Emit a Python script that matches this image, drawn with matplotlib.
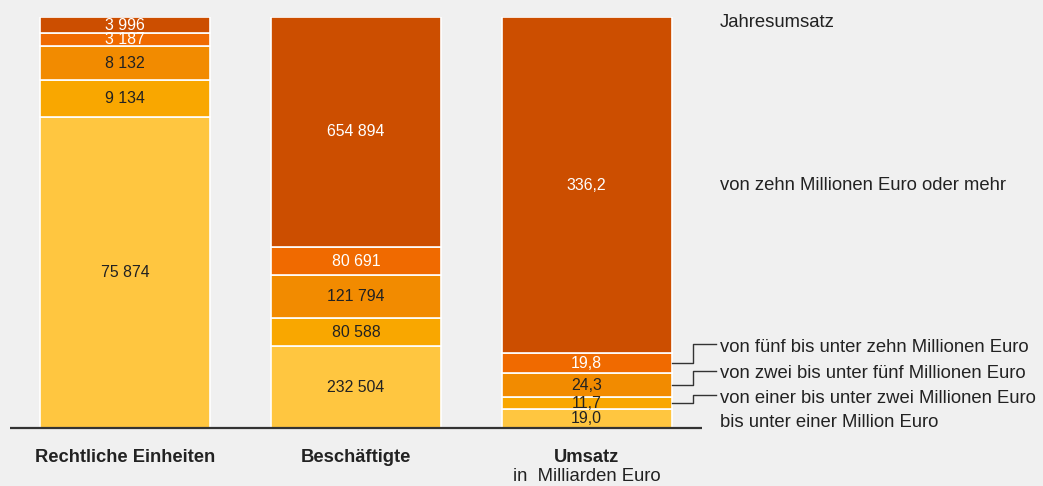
import matplotlib
matplotlib.use("Agg")
import matplotlib.pyplot as plt

plt.rcParams['font.family'] = ['Liberation Sans', 'DejaVu Sans']

# Data
columns = ["Rechtliche Einheiten", "Beschäftigte", "Umsatz"]
column_sub = ["", "", "in  Milliarden Euro"]
classes = ["bis unter einer Million Euro",
           "von einer bis unter zwei Millionen Euro",
           "von zwei bis unter fünf Millionen Euro",
           "von fünf bis unter zehn Millionen Euro",
           "von zehn Millionen Euro oder mehr"]
einheiten = [75874, 9134, 8132, 3187, 3996]
beschaeftigte = [232504, 80588, 121794, 80691, 654894]
umsatz = [19.0, 11.7, 24.3, 19.8, 336.2]
labels_einheiten = ["75 874", "9 134", "8 132", "3 187", "3 996"]
labels_besch = ["232 504", "80 588", "121 794", "80 691", "654 894"]
labels_umsatz = ["19,0", "11,7", "24,3", "19,8", "336,2"]

colors = ["#ffc640", "#f9a700", "#f28b00", "#f06a00", "#cc4e00"]
text_colors = ["#222222", "#222222", "#222222", "#ffffff", "#ffffff"]

W, H = 1043, 486
fig = plt.figure(figsize=(W/100, H/100), dpi=100)
fig.patch.set_facecolor("#f0f0f0")

# axes in px: x 10..702, y 17..428
x0, x1, ytop, ybot = 10, 702, 17, 428
ax = fig.add_axes([x0/W, (H-ybot)/H, (x1-x0)/W, (ybot-ytop)/H])
ax.set_facecolor("none")
ax.set_xlim(-0.5, 2.5)
ax.set_ylim(0, 100)
for s in ax.spines.values():
    s.set_visible(False)
ax.set_xticks([])
ax.set_yticks([])

px_per_x = (x1 - x0) / 3.0
def px2x(px):
    return (px - x0) / px_per_x - 0.5
def py2y(py):
    return (ybot - py) / (ybot - ytop) * 100

FS_VAL = 11.4
FS_LAB = 13.3
width = 170 / px_per_x
series = [einheiten, beschaeftigte, umsatz]
lbls = [labels_einheiten, labels_besch, labels_umsatz]
mids_umsatz = []
for i, (vals, lb) in enumerate(zip(series, lbls)):
    tot = sum(vals)
    bottom = 0
    for k, v in enumerate(vals):
        h = v / tot * 100
        ax.bar(i, h, bottom=bottom, width=width, color=colors[k],
               edgecolor="white", linewidth=1.2)
        ax.text(i, bottom + h/2, lb[k], ha="center", va="center",
                fontsize=FS_VAL, color=text_colors[k])
        if i == 2:
            mids_umsatz.append(bottom + h/2)
        bottom += h

# baseline
ax.plot([-0.5, 2.5], [0, 0], color="#333333", lw=1.6, clip_on=False,
        solid_capstyle="butt")

# right side labels
lx = px2x(720)
ax.text(lx, py2y(22), "Jahresumsatz", ha="left", va="center",
        fontsize=FS_LAB, color="#222222", clip_on=False)
ax.text(lx, mids_umsatz[4], classes[4], ha="left", va="center",
        fontsize=FS_LAB, color="#222222", clip_on=False)
label_py = [422, 398, 373, 348]
line_py = [None, 395, 371, 344]
right_edge = 2 + width/2
xk = px2x(693)
xe = px2x(716)
for k in range(4):
    ax.text(lx, py2y(label_py[k]), classes[k], ha="left", va="center",
            fontsize=FS_LAB, color="#222222", clip_on=False)
    if line_py[k] is not None:
        ly = py2y(line_py[k])
        ax.plot([right_edge, xk, xk, xe], [mids_umsatz[k], mids_umsatz[k], ly, ly],
                color="#333333", lw=1.0, clip_on=False)

# category labels
for i, (c, sub) in enumerate(zip(columns, column_sub)):
    ax.text(i, py2y(457), c, ha="center", va="center", fontsize=13.2,
            fontweight="bold", color="#222222", clip_on=False)
    if sub:
        ax.text(i, py2y(476), sub, ha="center", va="center", fontsize=FS_LAB,
                color="#222222", clip_on=False)

fig.savefig("out.png", dpi=100, facecolor=fig.get_facecolor())
